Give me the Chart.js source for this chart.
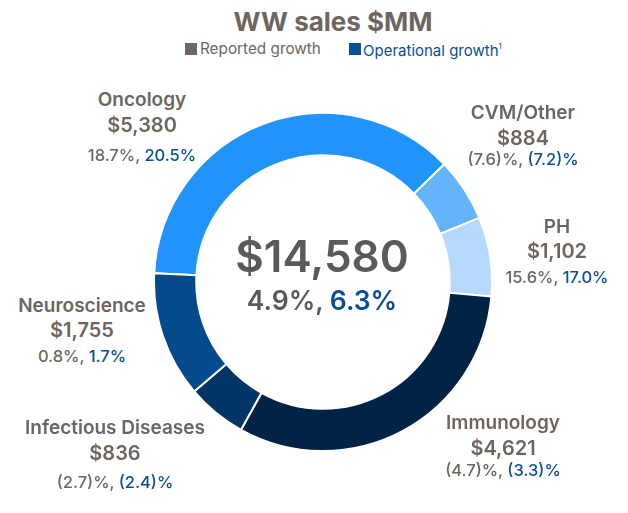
<!DOCTYPE html>
<html>
<head>
<meta charset="utf-8">
<script src="https://cdn.jsdelivr.net/npm/chart.js@4"></script>
<style>
  html, body { margin: 0; padding: 0; background: #fff; }
  body { width: 628px; height: 513px; position: relative; overflow: hidden; font-family: Inter, Roboto, sans-serif; }
  #wrap { position: absolute; left: 153px; top: 112px; width: 340px; height: 340px; }
  .t { position: absolute; white-space: nowrap; line-height: 1; }
  .sq { position: absolute; width: 12px; height: 12px; }
</style>
</head>
<body>
<div id="wrap"><canvas id="chart"></canvas></div>
<div id="texts"></div>
<script>
(function() {
  // data
  const segments = ['Oncology', 'CVM/Other', 'PH', 'Immunology', 'Infectious Diseases', 'Neuroscience'];
  const sales = [5380, 884, 1102, 4621, 836, 1755];
  const reported = [18.7, -7.6, 15.6, -4.7, -2.7, 0.8];
  const operational = [20.5, -7.2, 17.0, -3.3, -2.4, 1.7];
  const totalSales = 14580;
  const totalReported = 4.9;
  const totalOperational = 6.3;

  const colors = ['#2094fa', '#64b3fb', '#b5dafd', '#002244', '#023566', '#024a8a'];

  // label placement: center x, baselines of the three lines
  const labelPos = [
    { x: 142, y: [106, 132, 161] },
    { x: 523, y: [119, 145, 165] },
    { x: 557, y: [233, 258, 283] },
    { x: 503, y: [429, 455, 476] },
    { x: 115, y: [434, 460, 488] },
    { x: 82,  y: [312, 337, 362] }
  ];

  const GREY = '#6e665e';
  const BLUE = '#0b4f94';
  const textsEl = document.getElementById('texts');

  function money(v) { return '$' + v.toLocaleString('en-US'); }
  function pct(v) { return v < 0 ? '(' + Math.abs(v).toFixed(1) + ')%' : v.toFixed(1) + '%'; }

  function addText(html, x, baseline, size, weight, color, align) {
    const d = document.createElement('div');
    d.className = 't';
    d.innerHTML = html;
    d.style.fontSize = size + 'px';
    d.style.fontWeight = weight;
    d.style.color = color;
    d.style.top = (baseline - 0.864 * size) + 'px';
    d.style.left = x + 'px';
    if (align !== 'left') d.style.transform = 'translateX(-50%)';
    textsEl.appendChild(d);
    return d;
  }

  // title + legend
  addText('WW sales $MM', 333, 31, 26, 700, GREY);
  const sq1 = document.createElement('div'); sq1.className = 'sq';
  sq1.style.cssText += 'left:185px;top:43px;background:' + GREY;
  const sq2 = document.createElement('div'); sq2.className = 'sq';
  sq2.style.cssText += 'left:349px;top:43px;background:' + BLUE;
  textsEl.appendChild(sq1); textsEl.appendChild(sq2);
  addText('Reported growth', 200, 54.5, 15.3, 400, GREY, 'left');
  addText('Operational growth<sup style="font-size:8px;vertical-align:7px">1</sup>', 363, 54.5, 15, 400, BLUE, 'left');

  // segment labels
  segments.forEach(function(name, i) {
    const p = labelPos[i];
    addText(name, p.x, p.y[0], 19, 600, GREY);
    addText(money(sales[i]), p.x, p.y[1], 20, 600, GREY);
    addText('<span style="color:' + GREY + '">' + pct(reported[i]) + ', </span><span style="color:' + BLUE + '">' + pct(operational[i]) + '</span>',
      p.x, p.y[2], 16.5, 500, GREY);
  });

  // center
  addText(money(totalSales), 322, 272, 44, 600, '#5a5a5a');
  addText('<span>' + pct(totalReported) + ', </span><span style="color:' + BLUE + '">' + pct(totalOperational) + '</span>',
    322, 309.5, 26.5, 600, '#5a5a5a');

  new Chart(document.getElementById('chart').getContext('2d'), {
    type: 'doughnut',
    data: {
      labels: segments,
      datasets: [{ data: sales, backgroundColor: colors, borderColor: '#ffffff', borderWidth: 2 }]
    },
    options: {
      responsive: true,
      maintainAspectRatio: false,
      animation: false,
      rotation: -87,
      cutout: '75%',
      layout: { padding: 0 },
      plugins: { legend: { display: false }, tooltip: { enabled: false }, title: { display: false } }
    }
  });
})();
</script>
</body>
</html>
